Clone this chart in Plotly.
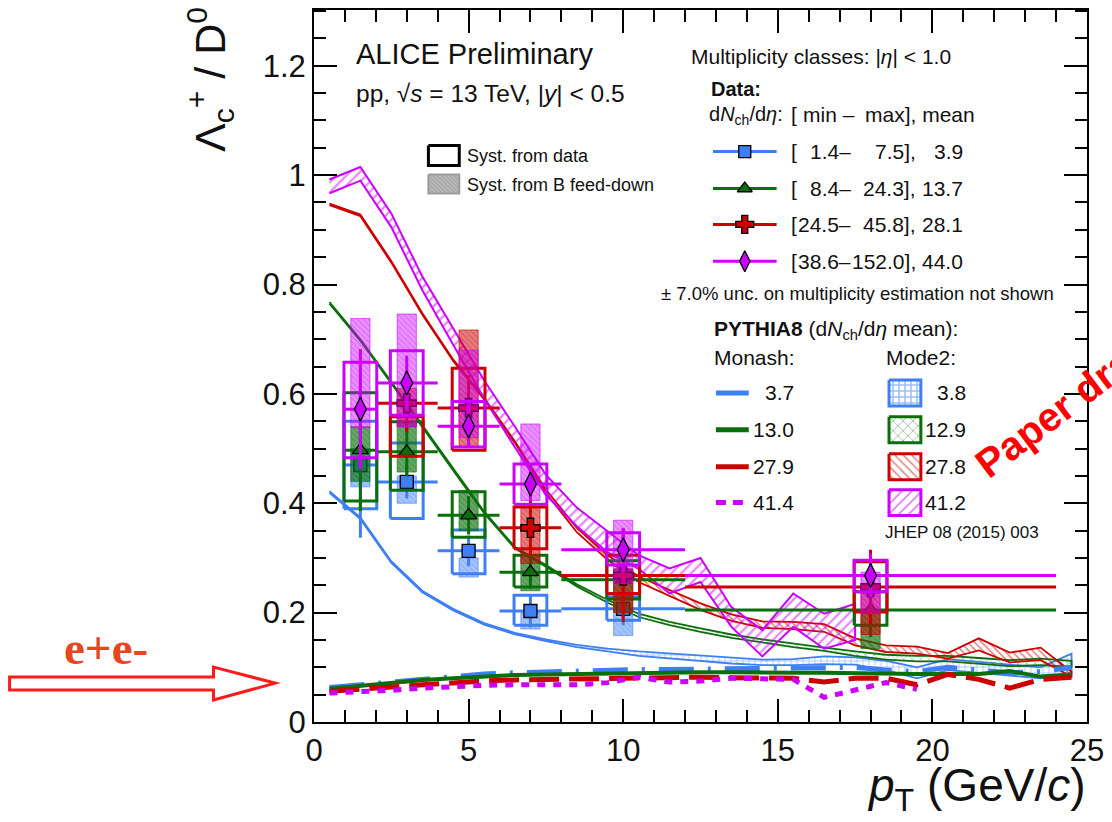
import plotly.graph_objects as go

# ------------------------------------------------------------------ data
# ALICE data: Lambda_c+/D0 vs pT in four multiplicity classes
blue_pt = [1.5, 3.0, 5.0, 7.0, 10.0]
blue_dpt = [0.5, 1.0, 1.0, 1.0, 2.0]
blue_val = [0.470, 0.439, 0.313, 0.203, 0.207]
blue_stat = [0.133, 0.030, 0.028, 0.030, 0.030]
blue_sys_lo = [0.390, 0.372, 0.271, 0.177, 0.186]
blue_sys_hi = [0.550, 0.510, 0.351, 0.232, 0.229]
blue_fd_lo = [0.430, 0.400, 0.265, 0.170, 0.158]
blue_fd_hi = [0.500, 0.450, 0.300, 0.200, 0.198]

green_pt = [1.5, 3.0, 5.0, 7.0, 10.0, 18.0]
green_dpt = [0.5, 1.0, 1.0, 1.0, 2.0, 6.0]
green_val = [0.497, 0.494, 0.378, 0.274, 0.260, 0.205]
green_stat = [0.111, 0.045, 0.035, 0.030, 0.050, 0.050]
green_sys_lo = [0.404, 0.424, 0.338, 0.247, 0.225, 0.177]
green_sys_hi = [0.602, 0.549, 0.421, 0.305, 0.295, 0.238]
green_fd_lo = [0.440, 0.457, 0.350, 0.240, 0.200, 0.134]
green_fd_hi = [0.540, 0.550, 0.423, 0.302, 0.280, 0.200]

red_pt = [3.0, 5.0, 7.0, 10.0, 18.0]
red_dpt = [1.0, 1.0, 1.0, 2.0, 6.0]
red_val = [0.583, 0.574, 0.355, 0.268, 0.247]
red_stat = [0.053, 0.060, 0.050, 0.085, 0.068]
red_sys_lo = [0.486, 0.497, 0.317, 0.235, 0.201]
red_sys_hi = [0.558, 0.647, 0.393, 0.305, 0.293]
red_fd_lo = [0.540, 0.503, 0.290, 0.200, 0.160]
red_fd_hi = [0.610, 0.717, 0.393, 0.280, 0.235]

mag_pt = [1.5, 3.0, 5.0, 7.0, 10.0, 18.0]
mag_dpt = [0.5, 1.0, 1.0, 1.0, 2.0, 6.0]
mag_val = [0.572, 0.620, 0.541, 0.435, 0.315, 0.268]
mag_stat = [0.110, 0.050, 0.040, 0.031, 0.040, 0.040]
mag_sys_lo = [0.483, 0.561, 0.503, 0.398, 0.287, 0.238]
mag_sys_hi = [0.658, 0.679, 0.586, 0.472, 0.346, 0.296]
mag_fd_lo = [0.538, 0.540, 0.520, 0.405, 0.253, 0.198]
mag_fd_hi = [0.738, 0.746, 0.680, 0.545, 0.369, 0.274]

# PYTHIA8 curves (1 GeV/c bins)
pythia_pt = [0.5, 1.5, 2.5, 3.5, 4.5, 5.5, 6.5, 7.5, 8.5, 9.5, 10.5, 11.5, 12.5,
             13.5, 14.5, 15.5, 16.5, 17.5, 18.5, 19.5, 20.5, 21.5, 22.5, 23.5, 24.5]

mode2_blue_hi = [0.422, 0.374, 0.294, 0.240, 0.207, 0.181, 0.163, 0.151, 0.141, 0.134, 0.129, 0.125, 0.122,
                 0.117, 0.114, 0.115, 0.120, 0.118, 0.112, 0.100, 0.115, 0.110, 0.105, 0.100, 0.125]
mode2_blue_lo = [0.419, 0.371, 0.291, 0.237, 0.204, 0.178, 0.160, 0.148, 0.137, 0.129, 0.121, 0.116, 0.112,
                 0.107, 0.104, 0.104, 0.106, 0.105, 0.095, 0.080, 0.095, 0.090, 0.085, 0.080, 0.090]
mode2_green_hi = [0.768, 0.700, 0.622, 0.543, 0.463, 0.385, 0.320, 0.287, 0.252, 0.223, 0.198, 0.183, 0.171,
                  0.160, 0.151, 0.143, 0.136, 0.129, 0.123, 0.121, 0.121, 0.117, 0.113, 0.116, 0.112]
mode2_green_lo = [0.765, 0.697, 0.619, 0.540, 0.460, 0.382, 0.317, 0.284, 0.248, 0.218, 0.192, 0.177, 0.165,
                  0.154, 0.145, 0.137, 0.130, 0.121, 0.114, 0.111, 0.111, 0.107, 0.102, 0.104, 0.101]
mode2_red_hi = [0.948, 0.928, 0.843, 0.748, 0.663, 0.593, 0.513, 0.425, 0.355, 0.305, 0.266, 0.241, 0.217,
                0.197, 0.184, 0.183, 0.179, 0.153, 0.140, 0.138, 0.126, 0.153, 0.127, 0.136, 0.092]
mode2_red_lo = [0.945, 0.925, 0.840, 0.745, 0.660, 0.590, 0.510, 0.419, 0.347, 0.296, 0.256, 0.230, 0.205,
                0.185, 0.172, 0.170, 0.165, 0.140, 0.128, 0.125, 0.116, 0.131, 0.109, 0.113, 0.083]
mode2_mag_pt = [0.5, 1.5, 2.5, 3.5, 4.5, 5.5, 6.5, 7.5, 8.5, 9.5, 10.5, 11.5, 12.5, 13.5, 14.5, 15.5, 16.5, 17.5]
mode2_mag_hi = [0.992, 1.015, 0.930, 0.815, 0.720, 0.625, 0.540, 0.452, 0.392, 0.348, 0.305, 0.281, 0.300,
                0.210, 0.168, 0.235, 0.198, 0.216]
mode2_mag_lo = [0.967, 0.990, 0.905, 0.790, 0.690, 0.592, 0.502, 0.415, 0.358, 0.310, 0.280, 0.235, 0.256,
                0.174, 0.120, 0.174, 0.134, 0.150]

monash_blue = [0.063, 0.068, 0.074, 0.080, 0.085, 0.088, 0.090, 0.092, 0.094, 0.095, 0.096, 0.096, 0.097,
               0.097, 0.097, 0.098, 0.100, 0.100, 0.095, 0.092, 0.100, 0.095, 0.090, 0.092, 0.100]
monash_green = [0.061, 0.066, 0.072, 0.077, 0.080, 0.083, 0.086, 0.087, 0.088, 0.089, 0.090, 0.090, 0.091,
                0.091, 0.090, 0.090, 0.090, 0.089, 0.088, 0.088, 0.088, 0.088, 0.093, 0.083, 0.087]
monash_red = [0.056, 0.059, 0.064, 0.068, 0.072, 0.075, 0.077, 0.078, 0.078, 0.079, 0.081, 0.083, 0.082,
              0.081, 0.080, 0.080, 0.073, 0.080, 0.080, 0.068, 0.087, 0.078, 0.062, 0.078, 0.082]
monash_mag_pt = [0.5, 1.5, 2.5, 3.5, 4.5, 5.5, 6.5, 7.5, 8.5, 9.5, 10.5, 11.5, 12.5, 13.5, 14.5, 15.5,
                 16.5, 17.5, 18.5, 19.5]
monash_mag = [0.053, 0.055, 0.058, 0.062, 0.065, 0.067, 0.068, 0.067, 0.068, 0.072, 0.082, 0.073, 0.075,
              0.080, 0.080, 0.078, 0.045, 0.058, 0.072, 0.060]

x_ticks = [0, 5, 10, 15, 20, 25]
y_ticks = [0, 0.2, 0.4, 0.6, 0.8, 1.0, 1.2]
y_tick_text = ["0", "0.2", "0.4", "0.6", "0.8", "1", "1.2"]

# legend texts
data_rows = [("1.4–", "7.5],", "3.9"), ("8.4–", "24.3],", "13.7"),
             ("24.5–", "45.8],", "28.1"), ("38.6–", "152.0],", "44.0")]
monash_labels = ["3.7", "13.0", "27.9", "41.4"]
mode2_labels = ["3.8", "12.9", "27.8", "41.2"]

# ------------------------------------------------------------------ style
BLUE, GREEN, RED, MAG = "#3f7ff5", "#0a6f0a", "#cc0000", "#cc00ff"
FONT = "Liberation Sans, Arial, sans-serif"
L, R, T, B = 314, 1091, 8, 722
W, H = 1112, 822
SYS_HW, FD_HW = 0.53, 0.31


def xp(X):
    return (X - L) / (R - L)


def yp(Y):
    return (B - Y) / (B - T)


def rgba(hexc, a):
    h = hexc.lstrip("#")
    return "rgba(%d,%d,%d,%.2f)" % (int(h[0:2], 16), int(h[2:4], 16), int(h[4:6], 16), a)


fig = go.Figure()


def band(x, lo, hi, color, shape, size, sol, lw=1.8):
    xs = list(x) + list(x)[::-1]
    ys = list(hi) + list(lo)[::-1]
    fig.add_trace(go.Scatter(
        x=xs, y=ys, mode="lines", fill="toself", fillcolor="rgba(255,255,255,0)",
        fillpattern=dict(shape=shape, fgcolor=color, bgcolor="rgba(255,255,255,0)",
                         size=size, solidity=sol),
        line=dict(color=color, width=lw), hoverinfo="skip", showlegend=False))


def rect_path(pt, lo, hi, hw):
    xs, ys = [], []
    for p, l, h in zip(pt, lo, hi):
        xs += [p - hw, p + hw, p + hw, p - hw, p - hw, None]
        ys += [l, l, h, h, l, None]
    return xs, ys


def data_series(pt, dpt, val, stat, slo, shi, flo, fhi, color, symbol, msize, alpha):
    fx, fy = rect_path(pt, flo, fhi, FD_HW)
    fig.add_trace(go.Scatter(
        x=fx, y=fy, mode="lines", fill="toself", fillcolor=rgba(color, alpha),
        fillpattern=dict(shape="\\", fgcolor=rgba(color, 0.6), bgcolor=rgba(color, alpha),
                         size=4, solidity=0.3, fillmode="overlay"),
        line=dict(color=rgba(color, 0.6), width=1), hoverinfo="skip", showlegend=False))
    sx, sy = rect_path(pt, slo, shi, SYS_HW)
    fig.add_trace(go.Scatter(x=sx, y=sy, mode="lines", line=dict(color=color, width=3),
                             hoverinfo="skip", showlegend=False))
    fig.add_trace(go.Scatter(
        x=pt, y=val, mode="markers",
        error_x=dict(type="data", array=dpt, width=0, thickness=3, color=color),
        error_y=dict(type="data", array=stat, width=0, thickness=3, color=color),
        marker=dict(symbol=symbol, size=msize, color=color, line=dict(color="black", width=1.3)),
        showlegend=False))


# PYTHIA8 Mode2 bands
band(pythia_pt, mode2_blue_lo, mode2_blue_hi, BLUE, "+", 6, 0.25)
band(pythia_pt, mode2_green_lo, mode2_green_hi, GREEN, "x", 6, 0.2)
band(pythia_pt, mode2_red_lo, mode2_red_hi, RED, "\\", 5, 0.3)
band(mode2_mag_pt, mode2_mag_lo, mode2_mag_hi, MAG, "/", 7, 0.3, lw=2)

# PYTHIA8 Monash lines
fig.add_trace(go.Scatter(x=pythia_pt, y=monash_blue, mode="lines",
                         line=dict(color=BLUE, width=5, dash="35px,14px,3px,14px"), showlegend=False))
fig.add_trace(go.Scatter(x=pythia_pt, y=monash_green, mode="lines",
                         line=dict(color=GREEN, width=4), showlegend=False))
fig.add_trace(go.Scatter(x=pythia_pt, y=monash_red, mode="lines",
                         line=dict(color=RED, width=5, dash="30px,10px"), showlegend=False))
fig.add_trace(go.Scatter(x=monash_mag_pt, y=monash_mag, mode="lines",
                         line=dict(color=MAG, width=5, dash="8px,8px"), showlegend=False))

# data
data_series(blue_pt, blue_dpt, blue_val, blue_stat, blue_sys_lo, blue_sys_hi, blue_fd_lo, blue_fd_hi,
            BLUE, "square", 13, 0.45)
data_series(green_pt, green_dpt, green_val, green_stat, green_sys_lo, green_sys_hi, green_fd_lo,
            green_fd_hi, GREEN, "triangle-up", 14, 0.62)
data_series(red_pt, red_dpt, red_val, red_stat, red_sys_lo, red_sys_hi, red_fd_lo, red_fd_hi,
            RED, "cross", 16, 0.5)
data_series(mag_pt, mag_dpt, mag_val, mag_stat, mag_sys_lo, mag_sys_hi, mag_fd_lo, mag_fd_hi,
            MAG, "diamond-tall", 17, 0.42)

# ------------------------------------------------------------------ legend glyphs (pixel overlay axes)
def glyph_line(x0, x1, y, color, width, dash=None):
    fig.add_trace(go.Scatter(x=[x0, x1], y=[y, y], mode="lines", xaxis="x2", yaxis="y2",
                             line=dict(color=color, width=width, dash=dash), showlegend=False,
                             hoverinfo="skip"))


def glyph_rect(x0, y0, x1, y1, line_color, lw, fill=None, pattern=None):
    kw = {}
    if fill is not None:
        kw = dict(fill="toself", fillcolor=fill)
        if pattern is not None:
            kw["fillpattern"] = pattern
    fig.add_trace(go.Scatter(x=[x0, x1, x1, x0, x0], y=[y0, y0, y1, y1, y0], mode="lines",
                             xaxis="x2", yaxis="y2", line=dict(color=line_color, width=lw),
                             showlegend=False, hoverinfo="skip", **kw))


row_y = [150, 187, 223, 260]
series_style = [(BLUE, "square", 12), (GREEN, "triangle-up", 13), (RED, "cross", 15), (MAG, "diamond-tall", 15)]
for yy, (c, sym, ms) in zip(row_y, series_style):
    glyph_line(715, 779, yy, c, 3)
    fig.add_trace(go.Scatter(x=[747], y=[yy], mode="markers", xaxis="x2", yaxis="y2",
                             marker=dict(symbol=sym, size=ms, color=c, line=dict(color="black", width=1.3)),
                             showlegend=False, hoverinfo="skip"))

glyph_rect(429, 144, 460, 164, "black", 3)
glyph_rect(429, 173, 460, 192, "#9a9a9a", 2, fill="#b4b4b4",
           pattern=dict(shape="\\", fgcolor="#8a8a8a", bgcolor="#b8b8b8", size=3, solidity=0.3,
                        fillmode="overlay"))

mon_y = [392, 429, 466, 502]
for yy, c in zip(mon_y[:3], [BLUE, GREEN, RED]):
    glyph_line(718, 751, yy, c, 5)
glyph_line(718, 751, mon_y[3], MAG, 5, dash="10px,7px")

m2_style = [(BLUE, "+", 6, 0.45), (GREEN, "x", 7, 0.2), (RED, "\\", 6, 0.25), (MAG, "/", 7, 0.25)]
for yy, (c, sh, sz, so) in zip(mon_y, m2_style):
    glyph_rect(892, yy - 13, 924, yy + 13, c, 3, fill="rgba(255,255,255,0)",
               pattern=dict(shape=sh, fgcolor=c, bgcolor="rgba(255,255,255,0)", size=sz, solidity=so))

# ------------------------------------------------------------------ annotations
anns = []


def ann(text, X, Y, size, xanchor="left", yanchor="middle", color="#111111", family=FONT, angle=0):
    anns.append(dict(text=text, x=xp(X), y=yp(Y), xref="paper", yref="paper", xanchor=xanchor,
                     yanchor=yanchor, showarrow=False, textangle=angle,
                     font=dict(size=size, color=color, family=family)))


ann("ALICE Preliminary", 354, 52, 29)
ann("pp, √<i>s</i> = 13 TeV, |<i>y</i>| &lt; 0.5", 354, 92, 24.5)
ann("Syst. from data", 466, 154, 18)
ann("Syst. from B feed-down", 466, 183, 18)
ann("Multiplicity classes: |<i>η</i>| &lt; 1.0", 691, 55, 21)
ann("<b>Data:</b>", 711, 87, 20)
ann("d<i>N</i><sub>ch</sub>/d<i>η</i>:", 709, 114, 20)
ann("[", 791, 113, 21)
ann("min –", 804, 113, 21)
ann("max], mean", 866, 113, 21)
for yy, (mn, mx, me) in zip(row_y, data_rows):
    ann("[", 791, yy, 21)
    ann(mn, 856, yy, 21, xanchor="right")
    ann(mx, 921, yy, 21, xanchor="right")
    ann(me, 968, yy, 21, xanchor="right")
ann("± 7.0% unc. on multiplicity estimation not shown", 661, 292, 18.5)
ann("<b>PYTHIA8</b> (d<i>N</i><sub>ch</sub>/d<i>η</i> mean):", 714, 329, 21)
ann("Monash:", 714, 356, 21)
ann("Mode2:", 887, 356, 21)
for yy, lab in zip(mon_y, monash_labels):
    ann(lab, 798, yy, 21, xanchor="right")
for yy, lab in zip(mon_y, mode2_labels):
    ann(lab, 971, yy, 21, xanchor="right")
ann("JHEP 08 (2015) 003", 886, 532, 17)

# axis titles
ann("Λ<sub>c</sub><sup>+</sup> / D<sup>0</sup>", 209, 3, 43, xanchor="center", yanchor="top", angle=-90)
ann("<i>p</i><sub>T</sub> (GeV/<i>c</i>)", 1092, 789, 46, xanchor="right")

# overlaid remarks
ann("<b>Paper draft</b>", 1068, 404, 40, xanchor="center", color="#ff0000", angle=-37)
ann("<b>e+e-</b>", 105, 648, 47, xanchor="center", color="#e8461e",
    family="Liberation Serif, Times New Roman, serif")

# arrow outline (pixel path)
arrow_pts = [(8, 677), (213, 677), (213, 667), (275, 683), (213, 700), (213, 690), (8, 690)]
path = "M " + " L ".join("%.5f,%.5f" % (xp(a), yp(b)) for a, b in arrow_pts) + " Z"
shapes = [dict(type="path", path=path, xref="paper", yref="paper",
               line=dict(color="#ff1a1a", width=3), fillcolor="rgba(0,0,0,0)")]

axis_common = dict(showline=True, linecolor="black", linewidth=2, mirror="allticks", ticks="inside",
                   tickcolor="black", tickwidth=2, ticklen=23, showgrid=False, zeroline=False,
                   tickfont=dict(size=31, color="#111111", family=FONT))

fig.update_layout(
    width=W, height=H, margin=dict(l=L, r=W - R, t=T, b=H - B, pad=0),
    paper_bgcolor="white", plot_bgcolor="white", showlegend=False,
    xaxis=dict(range=[0, 25], tickvals=x_ticks, ticktext=[str(v) for v in x_ticks],
               minor=dict(ticks="inside", dtick=1, ticklen=12, tickwidth=2, tickcolor="black"),
               **axis_common),
    yaxis=dict(range=[0, 1.302], tickvals=y_ticks, ticktext=y_tick_text,
               minor=dict(ticks="inside", dtick=0.05, ticklen=12, tickwidth=2, tickcolor="black"),
               **axis_common),
    xaxis2=dict(range=[L, R], overlaying="x", visible=False, fixedrange=True),
    yaxis2=dict(range=[B, T], overlaying="y", visible=False, fixedrange=True),
    annotations=anns, shapes=shapes,
)

fig.write_html("out.html")
